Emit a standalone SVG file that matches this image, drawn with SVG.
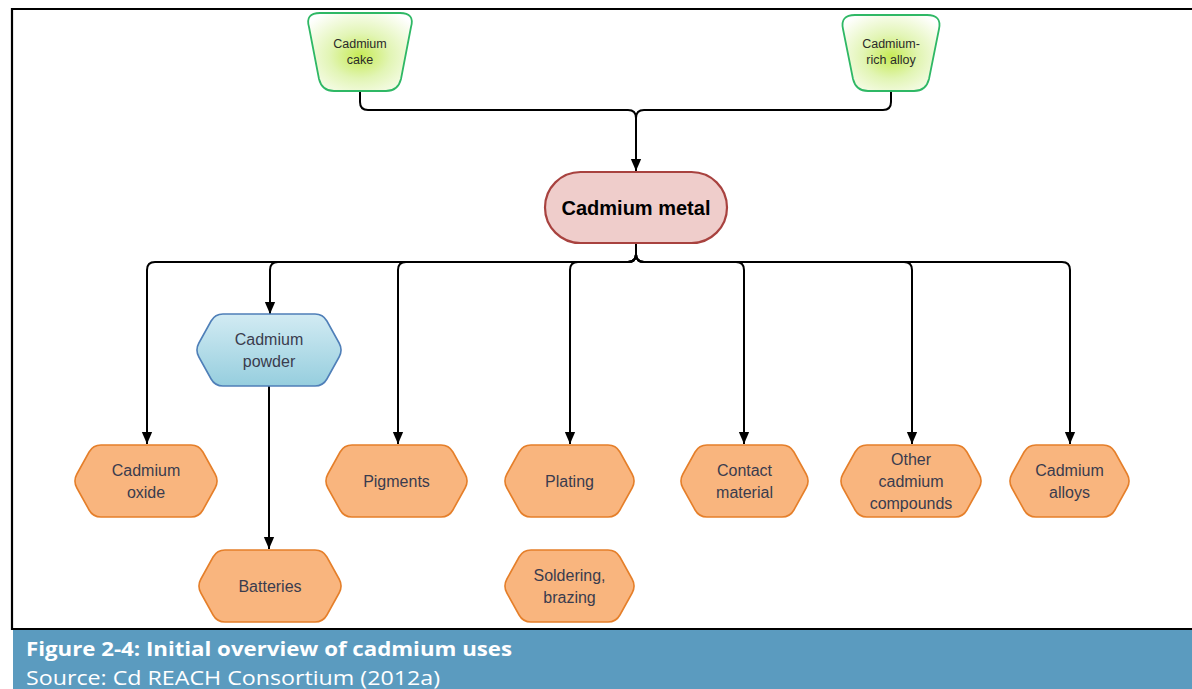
<svg xmlns="http://www.w3.org/2000/svg" width="1192" height="689" viewBox="0 0 1192 689">
<defs>
<style>
.hex{fill:#f9b57e;stroke:#e57f2a;stroke-width:1.6}
.lbl{font-family:"Liberation Sans",Arial,sans-serif;font-size:16px;fill:#3a3c4e;text-anchor:middle}
.sm{font-family:"Liberation Sans",Arial,sans-serif;font-size:12.5px;fill:#2a2a2a;text-anchor:middle}
.trap{fill:url(#gGreen);stroke:#2fb865;stroke-width:1.8}
.conn{fill:none;stroke:#000;stroke-width:2}
</style>
<radialGradient id="gGreen" cx="0.5" cy="0.55" r="0.65">
<stop offset="0" stop-color="#c6ea55"/>
<stop offset="0.45" stop-color="#e2f5b5"/>
<stop offset="1" stop-color="#ffffff"/>
</radialGradient>
<linearGradient id="gBlue" x1="0" y1="0" x2="0" y2="1">
<stop offset="0" stop-color="#d2ebf3"/>
<stop offset="1" stop-color="#96cede"/>
</linearGradient>
<marker id="arrD" markerUnits="userSpaceOnUse" markerWidth="12" markerHeight="14" viewBox="0 0 14 12" refX="14" refY="6" orient="auto">
<path d="M0,0 L14,6 L0,12 Z" fill="#000"/>
</marker>
</defs>

<rect x="0" y="0" width="1192" height="689" fill="#fff"/>
<path d="M12,630 V9 H1192" fill="none" stroke="#000" stroke-width="2.2"/>
<line x1="12" y1="629" x2="1192" y2="629" stroke="#000" stroke-width="2.2"/>
<rect x="13" y="630" width="1179" height="59" fill="#5b9bbf"/>
<text x="26" y="656" font-family="Open Sans,Liberation Sans,Arial,sans-serif" font-size="20" font-weight="bold" fill="#fff" textLength="486" lengthAdjust="spacingAndGlyphs">Figure 2-4: Initial overview of cadmium uses</text>
<text x="26" y="685" font-family="Open Sans,Liberation Sans,Arial,sans-serif" font-size="20" fill="#fff" textLength="414" lengthAdjust="spacingAndGlyphs">Source: Cd REACH Consortium (2012a)</text>

<g id="connectors">
<path class="conn" d="M360,91 V102 Q360,110 368,110 H628 Q636,110 636,118"/>
<path class="conn" d="M891,91 V102 Q891,110 883,110 H644 Q636,110 636,118"/>
<path class="conn" d="M636,118 V171" marker-end="url(#arrD)"/>
<path class="conn" d="M636,243 V254 Q636,262 628,262 H155 Q147,262 147,270 V444" marker-end="url(#arrD)"/>
<path class="conn" d="M636,243 V254 Q636,262 628,262 H278 Q270,262 270,270 V314" marker-end="url(#arrD)"/>
<path class="conn" d="M636,243 V254 Q636,262 628,262 H406 Q398,262 398,270 V444" marker-end="url(#arrD)"/>
<path class="conn" d="M636,243 V254 Q636,262 628,262 H578 Q570,262 570,270 V444" marker-end="url(#arrD)"/>
<path class="conn" d="M636,243 V254 Q636,262 644,262 H736 Q744,262 744,270 V444" marker-end="url(#arrD)"/>
<path class="conn" d="M636,243 V254 Q636,262 644,262 H904 Q912,262 912,270 V444" marker-end="url(#arrD)"/>
<path class="conn" d="M636,243 V254 Q636,262 644,262 H1062 Q1070,262 1070,270 V444" marker-end="url(#arrD)"/>
<path class="conn" d="M269,386 V549" marker-end="url(#arrD)"/>
</g>

<g id="cake">
<path class="trap" d="M320,13 H400 Q415,13 411,27 L401,79 Q398,91 386,91 H334 Q322,91 319,79 L309,27 Q305,13 320,13 Z"/>
<text class="sm" x="360" y="48">Cadmium</text>
<text class="sm" x="360" y="64">cake</text>
</g>
<g id="alloy">
<path class="trap" d="M855,15 H927 Q942,15 939,29 L929,79 Q926,91 914,91 H868 Q856,91 853,79 L843,29 Q840,15 855,15 Z"/>
<text class="sm" x="891" y="48">Cadmium-</text>
<text class="sm" x="891" y="64">rich alloy</text>
</g>

<g id="metal">
<rect x="545" y="172" width="182" height="71" rx="35.5" fill="#efcdcb" stroke="#a8423f" stroke-width="2.2"/>
<text x="636" y="215" font-family="Liberation Sans,Arial,sans-serif" font-size="20" font-weight="bold" fill="#000" text-anchor="middle">Cadmium metal</text>
</g>

<g id="powder">
<path d="M198.9,357 q-3.9,-7 0,-14 l12.2,-22 q3.9,-7 11.9,-7 h92 q8,0 11.9,7 l12.2,22 q3.9,7 0,14 l-12.2,22 q-3.9,7 -11.9,7 h-92 q-8,0 -11.9,-7 z" fill="url(#gBlue)" stroke="#4f7fb8" stroke-width="1.6"/>
<text class="lbl" x="269" y="345">Cadmium</text>
<text class="lbl" x="269" y="367">powder</text>
</g>

<g id="oxide">
<path class="hex" d="M76.9,488 q-3.9,-7 0,-14 l12.2,-22 q3.9,-7 11.9,-7 h90 q8,0 11.9,7 l12.2,22 q3.9,7 0,14 l-12.2,22 q-3.9,7 -11.9,7 h-90 q-8,0 -11.9,-7 z"/>
<text class="lbl" x="146" y="476">Cadmium</text>
<text class="lbl" x="146" y="498">oxide</text>
</g>
<g id="pigments">
<path class="hex" d="M327.9,488 q-3.9,-7 0,-14 l12.2,-22 q3.9,-7 11.9,-7 h89 q8,0 11.9,7 l12.2,22 q3.9,7 0,14 l-12.2,22 q-3.9,7 -11.9,7 h-89 q-8,0 -11.9,-7 z"/>
<text class="lbl" x="396.5" y="487">Pigments</text>
</g>
<g id="plating">
<path class="hex" d="M506.9,488 q-3.9,-7 0,-14 l12.2,-22 q3.9,-7 11.9,-7 h77 q8,0 11.9,7 l12.2,22 q3.9,7 0,14 l-12.2,22 q-3.9,7 -11.9,7 h-77 q-8,0 -11.9,-7 z"/>
<text class="lbl" x="569.5" y="487">Plating</text>
</g>
<g id="contact">
<path class="hex" d="M682.9,488 q-3.9,-7 0,-14 l12.2,-22 q3.9,-7 11.9,-7 h75 q8,0 11.9,7 l12.2,22 q3.9,7 0,14 l-12.2,22 q-3.9,7 -11.9,7 h-75 q-8,0 -11.9,-7 z"/>
<text class="lbl" x="744.5" y="476">Contact</text>
<text class="lbl" x="744.5" y="498">material</text>
</g>
<g id="other">
<path class="hex" d="M842.9,488 q-3.9,-7 0,-14 l12.2,-22 q3.9,-7 11.9,-7 h88 q8,0 11.9,7 l12.2,22 q3.9,7 0,14 l-12.2,22 q-3.9,7 -11.9,7 h-88 q-8,0 -11.9,-7 z"/>
<text class="lbl" x="911" y="465">Other</text>
<text class="lbl" x="911" y="487">cadmium</text>
<text class="lbl" x="911" y="509">compounds</text>
</g>
<g id="alloys">
<path class="hex" d="M1011.9,488 q-3.9,-7 0,-14 l12.2,-22 q3.9,-7 11.9,-7 h67 q8,0 11.9,7 l12.2,22 q3.9,7 0,14 l-12.2,22 q-3.9,7 -11.9,7 h-67 q-8,0 -11.9,-7 z"/>
<text class="lbl" x="1069.5" y="476">Cadmium</text>
<text class="lbl" x="1069.5" y="498">alloys</text>
</g>
<g id="batteries">
<path class="hex" d="M200.9,593 q-3.9,-7 0,-14 l12.2,-22 q3.9,-7 11.9,-7 h90 q8,0 11.9,7 l12.2,22 q3.9,7 0,14 l-12.2,22 q-3.9,7 -11.9,7 h-90 q-8,0 -11.9,-7 z"/>
<text class="lbl" x="270" y="592">Batteries</text>
</g>
<g id="soldering">
<path class="hex" d="M506.9,593 q-3.9,-7 0,-14 l12.2,-22 q3.9,-7 11.9,-7 h77 q8,0 11.9,7 l12.2,22 q3.9,7 0,14 l-12.2,22 q-3.9,7 -11.9,7 h-77 q-8,0 -11.9,-7 z"/>
<text class="lbl" x="569.5" y="581">Soldering,</text>
<text class="lbl" x="569.5" y="603">brazing</text>
</g>
</svg>
